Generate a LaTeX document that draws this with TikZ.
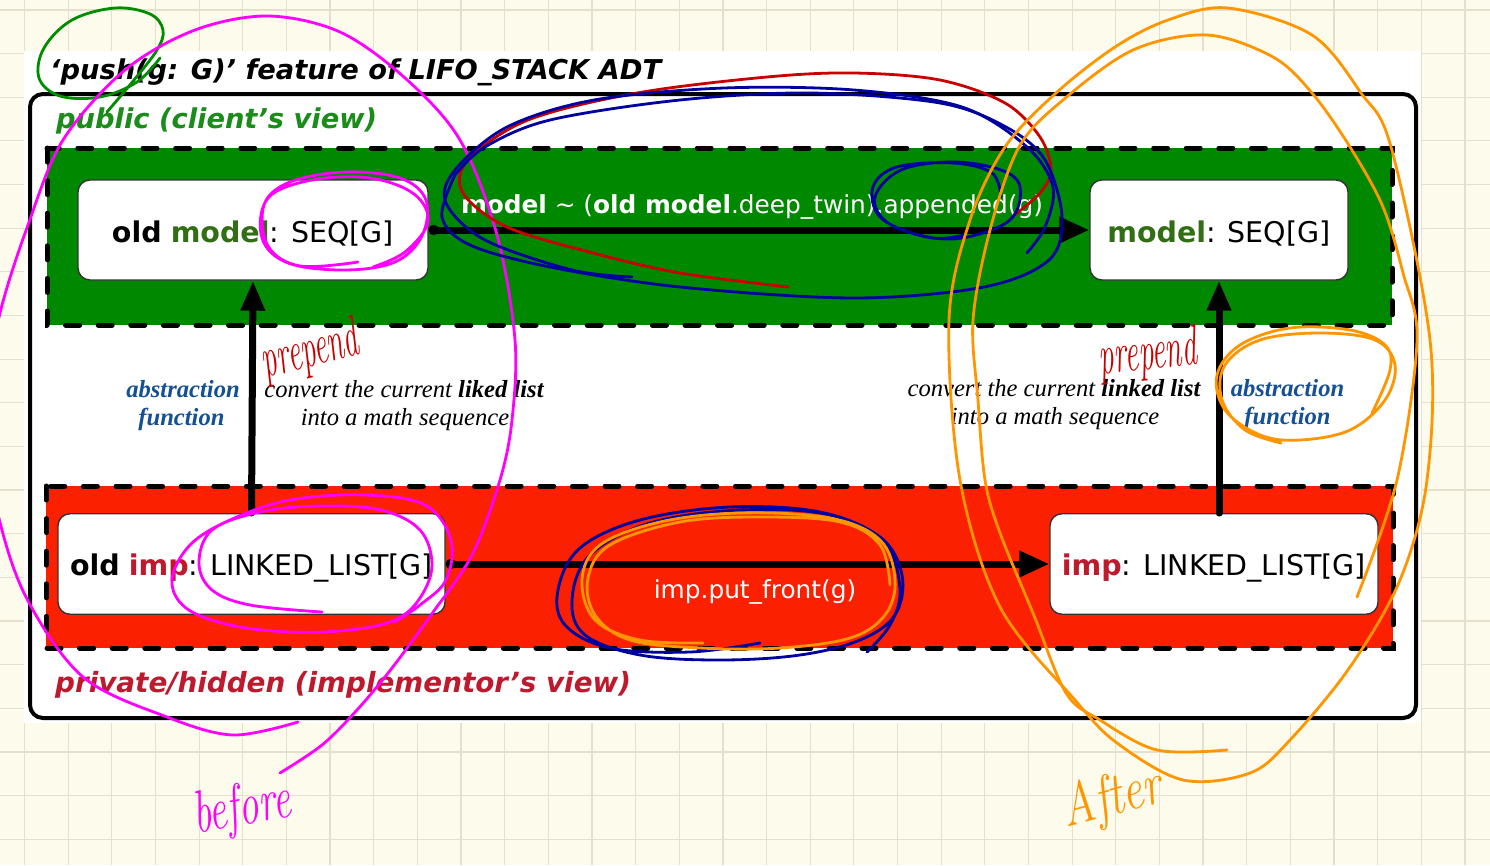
\documentclass[tikz,border=0pt]{standalone}
\usepackage{fontspec}
\usetikzlibrary{arrows.meta}
\newfontfamily\vsans{DejaVu Sans}[ItalicFont={DejaVu Sans Oblique},BoldItalicFont={DejaVu Sans Bold Oblique}]
\newfontfamily\tserif{Liberation Serif}
\definecolor{paper}{RGB}{253,251,236}
\definecolor{gridline}{RGB}{228,224,205}
\definecolor{pubgreen}{RGB}{0,136,0}
\definecolor{pubtext}{RGB}{25,140,25}
\definecolor{modelgreen}{RGB}{50,110,20}
\definecolor{privred}{RGB}{250,32,0}
\definecolor{imptext}{RGB}{190,25,45}
\definecolor{afblue}{RGB}{20,80,150}
\definecolor{penmagenta}{RGB}{255,0,255}
\definecolor{pengreen}{RGB}{0,140,0}
\definecolor{penred}{RGB}{200,0,0}
\definecolor{penblue}{RGB}{0,0,160}
\definecolor{penorange}{RGB}{255,150,0}
\begin{document}
\begin{tikzpicture}[x=1pt,y=-1pt,
  pen/.style={line width=2.8pt,line cap=round,line join=round},
  band/.style={draw=black,line width=5pt,dash pattern=on 14pt off 18.6pt,line cap=round},
  box/.style={draw=black!80,line width=1.4pt,fill=white,rounded corners=12pt,inner sep=0pt},
  flow/.style={line width=7pt,{Circle[length=10pt]}-{Triangle[length=30pt,width=25pt]}},
  lift/.style={line width=7pt,line cap=round,-{Triangle[length=30pt,width=23pt]}},
  boxtext/.style={font=\vsans\fontsize{28.5}{34}\selectfont,text depth=2pt},
  edgetext/.style={font=\vsans\fontsize{24.8}{30}\selectfont,text=white,inner sep=0pt,anchor=base},
  headtext/.style={font=\vsans\bfseries\itshape\fontsize{27.3}{32}\selectfont,inner sep=0pt,anchor=base west},
  notetext/.style={font=\tserif\itshape\fontsize{24.6}{28}\selectfont,inner sep=0pt,anchor=base},
  aftext/.style={notetext,font=\tserif\bfseries\itshape\fontsize{24.6}{28}\selectfont,text=afblue},
  handtext/.style={font=\itshape\fontsize{34}{34}\selectfont,inner sep=0pt}
]
\useasboundingbox (0,0) rectangle (1490,865);
% squared paper
\fill[paper] (0,0) rectangle (1490,865);
\foreach \i in {0,...,35} \draw[gridline,line width=1.2pt] ({-19.15+43.65*\i},0) -- ++(0,865);
\foreach \j in {0,...,19} \draw[gridline,line width=1.2pt] (0,{9.9+43.65*\j}) -- ++(1490,0);
% slide
\fill[white] (24,51) rectangle (1421,723);
\node[headtext] (title) at (50,79) {‘push(g: G)’ feature of LIFO\_STACK ADT};
\draw[line width=4pt,rounded corners=13pt] (30,94) rectangle (1416,718);
\node[headtext,text=pubtext] (pubhead) at (56,128) {public (client’s view)};
\node[headtext,text=imptext,font=\vsans\bfseries\itshape\fontsize{27.8}{32}\selectfont] (privhead) at (55,692) {private/hidden (implementor’s view)};
% public and private bands
\path[band,fill=pubgreen] (47,148) rectangle (1392,325);
\path[band,fill=privred] (46,486) rectangle (1393,648);
% state boxes
\node[box,boxtext,text height=26pt,minimum width=350pt,minimum height=100pt] (oldmodel) at (253,230)
  {\textbf{old} \textbf{\textcolor{modelgreen}{model}}: SEQ[G]};
\node[box,boxtext,text height=26pt,minimum width=258pt,minimum height=100pt] (newmodel) at (1219,230)
  {\textbf{\textcolor{modelgreen}{model}}: SEQ[G]};
\node[box,boxtext,text height=24pt,minimum width=387pt,minimum height=100.5pt] (oldimp) at (251.5,564)
  {\textbf{old} \textbf{\textcolor{imptext}{imp}}: LINKED\_LIST[G]};
\node[box,boxtext,text height=24pt,minimum width=328pt,minimum height=100.5pt] (newimp) at (1214,564)
  {\textbf{\textcolor{imptext}{imp}}: LINKED\_LIST[G]};
% transitions
\draw[flow] (oldmodel.east) -- (newmodel.west);
\draw[flow] (oldimp.east) -- (newimp.west);
\draw[lift] (oldimp.north) -- (oldmodel.south);
\draw[lift] (newimp.north -| newmodel.south) -- (newmodel.south);
\node[edgetext] (modeledge) at (752,213)
  {\textbf{model} \textasciitilde{} (\textbf{old model}.deep\_twin).appended(g)};
\node[edgetext] (impedge) at (755,598) {imp.put\_front(g)};
% abstraction function notes
\node[aftext] (afl1) at (183,397) {abstraction};
\node[aftext] (afl2) at (181.5,425) {function};
\node[notetext] (cvl1) at (404,397) {convert the current \textbf{liked list}};
\node[notetext] (cvl2) at (405,425) {into a math sequence};
\node[aftext] (afr1) at (1287.5,396) {abstraction};
\node[aftext] (afr2) at (1287.5,424) {function};
\node[notetext] (cvr1) at (1054,396) {convert the current \textbf{linked list}};
\node[notetext] (cvr2) at (1055,424) {into a math sequence};
% pen annotations: green
\draw[pen,pengreen] plot[smooth,tension=0.6] coordinates {(107,112) (134,80) (157,50) (163,30) (150,14) (115,8) (72,20) (44,48) (39,78) (60,96) (100,97) (137,82) (160,58)};
% pen annotations: magenta (before)
\draw[pen,penmagenta] plot[smooth,tension=0.55] coordinates {(298,722) (233,735) (167,717) (83,677) (26,597) (-3,510) (-18,410) (0,313) (28,225) (63,140) (125,70) (195,30) (268,16) (340,32) (405,78) (460,140) (497,235) (515,340) (512,420) (500,480) (472,555) (431,615) (392,668) (357,710) (322,745) (280,773)};
\draw[pen,penmagenta] plot[smooth,tension=0.6] coordinates {(358,262) (300,266) (268,246) (264,205) (290,182) (345,172) (400,178) (426,200) (422,236) (395,262) (345,270) (288,263) (262,238) (268,198) (312,180) (370,178) (414,194) (428,222) (405,252) (373,267)};
\draw[pen,penmagenta] plot[smooth,tension=0.6] coordinates {(322,612) (250,605) (212,590) (199,563) (212,530) (260,512) (320,506) (381,510) (420,530) (432,565) (420,598) (395,620) (350,630) (290,632) (230,625) (186,608) (172,580) (190,545) (230,520) (290,500) (365,495) (425,505) (451,540) (446,580) (420,605) (395,622)};
\node[handtext,text=penmagenta,rotate=10,font=\itshape\fontsize{40}{40}\selectfont] (before) at (242,810) {\scalebox{1}[1.5]{before}};
% pen annotations: red
\draw[pen,penred] plot[smooth,tension=0.55] coordinates {(788,287) (680,273) (593,253) (507,227) (463,193) (468,160) (528,120) (637,93) (767,77) (854,73) (940,80) (1005,103) (1040,137) (1051,170) (1040,193) (1012,217)};
\node[handtext,text=penred,rotate=14,font=\itshape\fontsize{30}{30}\selectfont] (prepl) at (310,352) {\scalebox{1}[1.9]{prepend}};
\node[handtext,text=penred,rotate=6,font=\itshape\fontsize{30}{30}\selectfont] (prepr) at (1148,355) {\scalebox{1}[1.9]{prepend}};
% pen annotations: blue
\draw[pen,penblue] plot[smooth,tension=0.55] coordinates {(632,277) (572,270) (485,240) (446,203) (455,170) (507,127) (594,100) (724,88) (854,90) (962,107) (1027,147) (1053,187) (1045,227) (1027,253)};
\draw[pen,penblue] plot[smooth,tension=0.55] coordinates {(455,175) (442,217) (470,245) (550,267) (680,287) (854,298) (984,287) (1049,260) (1062,217) (1045,160) (1006,127) (940,103) (810,93) (680,100) (550,120) (485,147) (455,175)};
\draw[pen,penblue] plot[smooth,tension=0.6] coordinates {(1001,197) (992,173) (953,163) (897,167) (873,187) (880,217) (919,235) (962,238) (1010,220) (1020,187) (1001,170) (953,162) (901,170) (875,197) (888,223) (932,238) (964,235)};
\draw[pen,penblue] plot[smooth,tension=0.6] coordinates {(760,643) (690,652) (610,648) (565,625) (558,590) (580,548) (640,520) (730,507) (820,512) (880,537) (902,575) (895,615) (860,640) (800,655) (720,660) (640,655) (585,635) (572,600) (590,555) (650,523) (740,510) (830,515) (885,545) (900,590) (890,625) (867,652)};
% pen annotations: orange (after)
\draw[pen,penorange] plot[smooth,tension=0.6] coordinates {(703,643) (640,640) (595,620) (582,580) (600,545) (660,522) (740,513) (830,518) (880,540) (895,580) (885,615) (850,638) (780,648) (700,648) (630,640) (595,615) (588,578) (610,545) (680,522) (760,517) (840,522) (880,545) (890,585)};
\draw[pen,penorange] plot[smooth cycle,tension=0.55] coordinates {(1005,147) (1056,93) (1115,47) (1168,20) (1228,8) (1312,35) (1361,93) (1391,147) (1430,340) (1427,480) (1400,580) (1350,667) (1290,740) (1250,773) (1183,780) (1117,743) (1075,700) (1000,607) (960,480) (949,320) (970,220)};
\draw[pen,penorange] plot[smooth,tension=0.55] coordinates {(1227,750) (1157,750) (1100,720) (1066,693) (1033,613) (1000,533) (985,480) (978,400) (973,320) (990,230) (1019,147) (1063,100) (1133,50) (1207,35) (1273,57) (1312,93) (1350,147) (1383,207) (1403,273) (1417,340) (1397,480) (1357,597)};
\draw[pen,penorange] plot[smooth,tension=0.6] coordinates {(1372,413) (1390,370) (1385,345) (1350,330) (1290,328) (1240,345) (1217,375) (1225,410) (1260,435) (1300,440) (1350,430) (1385,400) (1395,365) (1375,340) (1320,333) (1260,340) (1225,365) (1222,400) (1245,430) (1281,443)};
\node[handtext,text=penorange,rotate=15,font=\itshape\fontsize{46}{46}\selectfont] (after) at (1112,800) {\scalebox{1}[1.3]{After}};
\end{tikzpicture}
\end{document}
